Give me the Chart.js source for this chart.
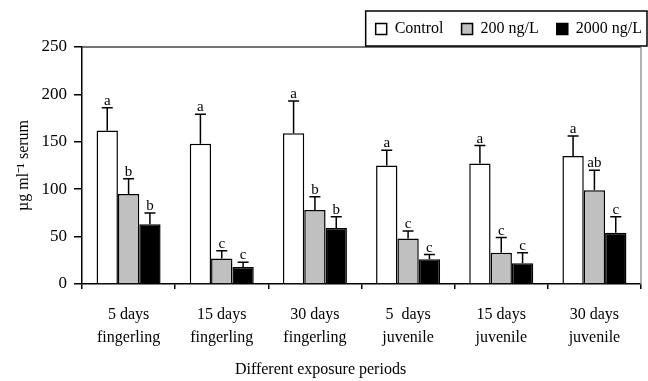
<!DOCTYPE html>
<html>
<head>
<meta charset="utf-8">
<script src="https://cdn.jsdelivr.net/npm/chart.js@4.4.1/dist/chart.umd.min.js"></script>
<style>
  html, body { margin: 0; padding: 0; background: #fff; }
  #wrap { width: 648px; height: 381px; }
</style>
</head>
<body>
<div id="wrap"><canvas id="myChart" width="648" height="381"></canvas></div>
<script>
var periodos = [['5 days', 'fingerling'], ['15 days', 'fingerling'], ['30 days', 'fingerling'],
                ['5  days', 'juvenile'], ['15 days', 'juvenile'], ['30 days', 'juvenile']];

var controle = [162, 148, 159, 125, 127, 135];
var controleErro = [24, 31, 34, 16, 19, 21];
var controleLetra = ['a', 'a', 'a', 'a', 'a', 'a'];

var dose200 = [95, 27, 78, 48, 33, 99];
var dose200Erro = [16, 8, 14, 8, 16, 21];
var dose200Letra = ['b', 'c', 'b', 'c', 'c', 'ab'];

var dose2000 = [63, 18, 59, 26, 22, 54];
var dose2000Erro = [12, 5, 12, 5, 11, 17];
var dose2000Letra = ['b', 'c', 'b', 'c', 'c', 'c'];

var fonte = "'Liberation Serif', 'Times New Roman', serif";

// barras de erro + letras em cima
var errosPlugin = {
  id: 'erros',
  afterDatasetsDraw: function(chart) {
    var ctx = chart.ctx;
    var y = chart.scales.y;
    ctx.save();
    chart.data.datasets.forEach(function(ds, i) {
      var meta = chart.getDatasetMeta(i);
      meta.data.forEach(function(bar, j) {
        var topo = y.getPixelForValue(ds.data[j] + ds.erro[j]);
        ctx.strokeStyle = '#000';
        ctx.lineWidth = 1.5;
        ctx.beginPath();
        ctx.moveTo(bar.x, bar.y);
        ctx.lineTo(bar.x, topo);
        ctx.moveTo(bar.x - 5.5, topo);
        ctx.lineTo(bar.x + 5.5, topo);
        ctx.stroke();
        ctx.fillStyle = '#000';
        ctx.font = '15px ' + fonte;
        ctx.textAlign = 'center';
        ctx.textBaseline = 'alphabetic';
        ctx.fillText(ds.letra[j], bar.x, topo - 3);
      });
    });
    ctx.restore();
  },
  afterLayout: function(chart) {
    // legenda um pouco mais para a direita
    chart.legend.left += 19;
    chart.legend.right += 19;
  },
  afterDraw: function(chart) {
    var ctx = chart.ctx;
    var a = chart.chartArea;
    ctx.save();
    ctx.lineWidth = 1.5;
    ctx.strokeStyle = '#444';
    ctx.beginPath();
    ctx.moveTo(a.left, a.top);
    ctx.lineTo(a.right, a.top);
    ctx.stroke();
    ctx.strokeStyle = '#999';
    ctx.beginPath();
    ctx.moveTo(a.right, a.top);
    ctx.lineTo(a.right, a.bottom);
    ctx.stroke();
    // caixa da legenda
    var hb = chart.legend.legendHitBoxes;
    if (hb && hb.length) {
      var ult = hb[hb.length - 1];
      var x0 = hb[0].left - 10, x1 = ult.left + ult.width + 5;
      var y0 = hb[0].top - 10, y1 = hb[0].top + hb[0].height + 9;
      ctx.strokeStyle = '#000';
      ctx.strokeRect(x0, y0, x1 - x0, y1 - y0);
    }
    ctx.restore();
  }
};

function graficoBarras() {
  const ctx = document.getElementById('myChart').getContext('2d');
  const myChart = new Chart(ctx, {
    type: 'bar',
    data: {
      labels: periodos,
      datasets: [{
        label: 'Control',
        data: controle,
        erro: controleErro,
        letra: controleLetra,
        backgroundColor: '#ffffff',
        borderColor: '#000',
        borderWidth: 1.5
      }, {
        label: '200 ng/L',
        data: dose200,
        erro: dose200Erro,
        letra: dose200Letra,
        backgroundColor: '#c0c0c0',
        borderColor: '#000',
        borderWidth: 1.5
      }, {
        label: '2000 ng/L',
        data: dose2000,
        erro: dose2000Erro,
        letra: dose2000Letra,
        backgroundColor: '#000000',
        borderColor: '#000',
        borderWidth: 1.5
      }]
    },
    options: {
      responsive: false,
      animation: false,
      datasets: {
        bar: { categoryPercentage: 0.687, barPercentage: 1 }
      },
      layout: { padding: { left: 0, right: 7, top: 3, bottom: 0 } },
      plugins: {
        tooltip: { enabled: false },
        legend: {
          position: 'top',
          align: 'end',
          maxHeight: 45,
          labels: {
            color: '#000',
            font: { family: fonte, size: 16 },
            boxWidth: 11,
            boxHeight: 11,
            padding: 18
          }
        },
        title: {
          display: true,
          position: 'bottom',
          text: 'Different exposure periods',
          color: '#000',
          font: { family: fonte, size: 16, weight: 'normal' },
          padding: { top: 0, bottom: 2 }
        }
      },
      scales: {
        x: {
          afterFit: function(s) { s.height = 75.8; },
          grid: {
            offset: true,
            drawOnChartArea: false,
            drawTicks: true,
            tickLength: 5,
            color: '#000',
            lineWidth: 1.5
          },
          border: { color: '#000', width: 1.5 },
          ticks: {
            color: '#000',
            font: { family: fonte, size: 16, lineHeight: 1.45 },
            padding: 14,
            maxRotation: 0,
            autoSkip: false
          }
        },
        y: {
          min: 0,
          max: 250,
          afterFit: function(s) { s.width = 82; },
          grid: {
            drawOnChartArea: false,
            drawTicks: true,
            tickLength: 8,
            color: '#000',
            lineWidth: 1.5
          },
          border: { color: '#000', width: 1.5 },
          ticks: {
            stepSize: 50,
            color: '#000',
            font: { family: fonte, size: 17 },
            padding: 7
          },
          title: {
            display: true,
            text: 'µg ml⁻¹ serum',
            color: '#000',
            font: { family: fonte, size: 16 },
            padding: { top: 14, bottom: 0 }
          }
        }
      }
    },
    plugins: [errosPlugin]
  });
}

graficoBarras();
</script>
</body>
</html>
